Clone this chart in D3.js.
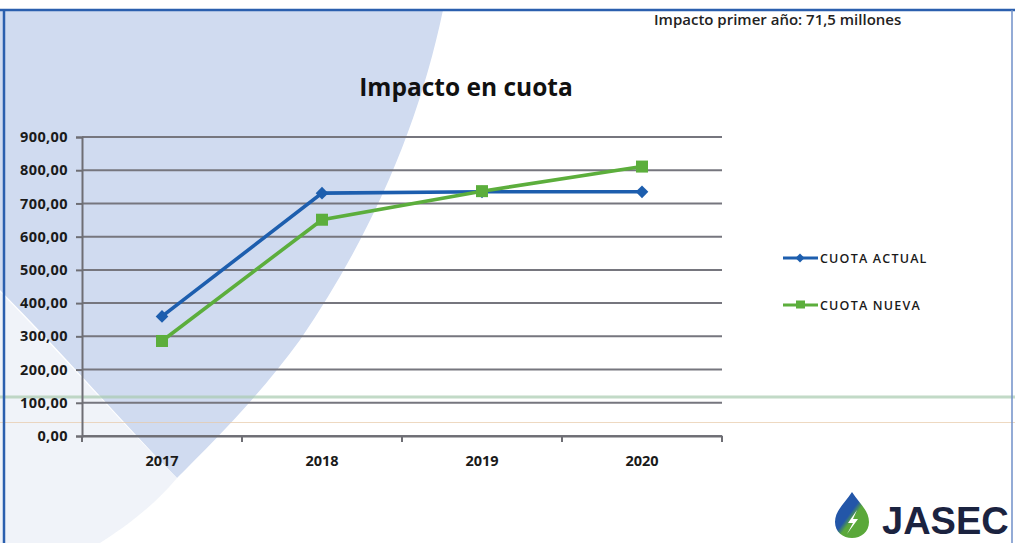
<!DOCTYPE html>
<html>
<head>
<meta charset="utf-8">
<script src="https://cdnjs.cloudflare.com/ajax/libs/d3/7.8.5/d3.min.js"></script>
<style>
  html, body { margin: 0; padding: 0; background: #fff; }
  svg { display: block; }
</style>
</head>
<body>
<svg id="chart" width="1015" height="543"></svg>
<script>
const categories = ["2017", "2018", "2019", "2020"];
const cuotaActual = [360, 731, 735, 735];
const cuotaNueva = [286, 651, 737, 811];
const yTicks = [0, 100, 200, 300, 400, 500, 600, 700, 800, 900];
const seriesNames = ["CUOTA ACTUAL", "CUOTA NUEVA"];
const titleText = "Impacto en cuota";
const noteText = "Impacto primer año: 71,5 millones";

const svg = d3.select("#chart");
const W = 1015, H = 543;
const margin = { left: 82, right: 722, top: 137, bottom: 436 };

// background decoration (slide swoosh)
svg.append("rect").attr("width", W).attr("height", H).attr("fill", "#ffffff");
const swoosh = d3.path();
swoosh.moveTo(0, 10);
swoosh.lineTo(443, 10);
swoosh.bezierCurveTo(420, 120, 375, 230, 300, 340);
swoosh.bezierCurveTo(260, 395, 215, 440, 177, 478);
swoosh.bezierCurveTo(120, 420, 60, 350, 0, 290);
swoosh.closePath();
svg.append("path").attr("d", swoosh.toString()).attr("fill", "#d0dbf0");
const swoosh2 = d3.path();
swoosh2.moveTo(0, 292);
swoosh2.bezierCurveTo(60, 352, 120, 422, 177, 478);
swoosh2.bezierCurveTo(150, 510, 120, 530, 100, 543);
swoosh2.lineTo(0, 543);
swoosh2.closePath();
svg.append("path").attr("d", swoosh2.toString()).attr("fill", "#f0f3f9");

// scan artifacts
svg.append("line").attr("x1", 0).attr("x2", W).attr("y1", 397).attr("y2", 397)
  .attr("stroke", "#a9cbb0").attr("stroke-width", 3).attr("opacity", 0.7);
svg.append("line").attr("x1", 0).attr("x2", W).attr("y1", 422.5).attr("y2", 422.5)
  .attr("stroke", "#e8c9a8").attr("stroke-width", 1).attr("opacity", 0.7);

// slide frame
svg.append("line").attr("x1", 0).attr("x2", W).attr("y1", 10).attr("y2", 10)
  .attr("stroke", "#2b5fae").attr("stroke-width", 2.5);
svg.append("line").attr("x1", 4).attr("x2", 4).attr("y1", 10).attr("y2", H)
  .attr("stroke", "#2b5fae").attr("stroke-width", 2.5);
svg.append("line").attr("x1", 1012).attr("x2", 1012).attr("y1", 10).attr("y2", H)
  .attr("stroke", "#6f8fc8").attr("stroke-width", 1.5);

const x = d3.scaleBand().domain(categories).range([margin.left, margin.right]).padding(0);
const y = d3.scaleLinear().domain([0, 900]).range([margin.bottom, margin.top]);
const cx = d => x(d) + x.bandwidth() / 2;

// gridlines
svg.append("g").selectAll("line").data(yTicks).join("line")
  .attr("x1", margin.left).attr("x2", margin.right)
  .attr("y1", d => y(d)).attr("y2", d => y(d))
  .attr("stroke", "#76767e").attr("stroke-width", 2);

// y axis
const yAxis = svg.append("g").attr("transform", `translate(${margin.left},0)`)
  .call(d3.axisLeft(y).tickValues(yTicks).tickSize(6).tickPadding(8)
    .tickFormat(d => d3.format(".2f")(d).replace(".", ",")));
yAxis.select(".domain").attr("stroke", "#6e6e74").attr("stroke-width", 2);
yAxis.selectAll(".tick line").attr("stroke", "#6e6e74").attr("stroke-width", 2);
yAxis.selectAll("text").attr("font-family", "'Open Sans', sans-serif")
  .attr("font-weight", 700).attr("font-size", 14.5).attr("letter-spacing", 0.4).attr("fill", "#1a1a1a");

// x axis
const xAxis = svg.append("g").attr("transform", `translate(0,${margin.bottom})`)
  .call(d3.axisBottom(x).tickSize(0).tickPadding(20));
xAxis.select(".domain").attr("stroke", "#6e6e74").attr("stroke-width", 2);
xAxis.selectAll("text").attr("font-family", "'Open Sans', sans-serif")
  .attr("font-weight", 700).attr("font-size", 14.5).attr("fill", "#1a1a1a");
// category boundary ticks
const bounds = categories.map(c => x(c)).concat([x(categories[categories.length - 1]) + x.bandwidth()]);
svg.append("g").selectAll("line").data(bounds).join("line")
  .attr("x1", d => d).attr("x2", d => d)
  .attr("y1", margin.bottom).attr("y2", margin.bottom + 6)
  .attr("stroke", "#6e6e74").attr("stroke-width", 2);

// series
const colors = ["#1d5eae", "#5cae3c"];
const seriesData = [cuotaActual, cuotaNueva];
const line = d3.line().x((d, i) => cx(categories[i])).y(d => y(d));
seriesData.forEach((vals, s) => {
  svg.append("path").datum(vals).attr("d", line)
    .attr("fill", "none").attr("stroke", colors[s]).attr("stroke-width", 3.6);
});
// markers
svg.append("g").selectAll("path").data(cuotaActual).join("path")
  .attr("d", d3.symbol().type(d3.symbolSquare).size(80))
  .attr("transform", (d, i) => `translate(${cx(categories[i])},${y(d)}) rotate(45)`)
  .attr("fill", colors[0]);
svg.append("g").selectAll("rect").data(cuotaNueva).join("rect")
  .attr("x", (d, i) => cx(categories[i]) - 6).attr("y", d => y(d) - 6)
  .attr("width", 12).attr("height", 12).attr("fill", colors[1]);

// title
svg.append("text").attr("x", 466).attr("y", 96).attr("text-anchor", "middle")
  .attr("font-family", "'Open Sans', sans-serif").attr("font-weight", 700)
  .attr("font-size", 24.5).attr("fill", "#111").text(titleText);
// note
svg.append("text").attr("x", 654).attr("y", 25)
  .attr("font-family", "'Open Sans', sans-serif").attr("font-weight", 600)
  .attr("font-size", 15).attr("fill", "#222").text(noteText);

// legend
const legY = [258, 305];
seriesNames.forEach((name, s) => {
  const g = svg.append("g");
  g.append("line").attr("x1", 783).attr("x2", 818).attr("y1", legY[s]).attr("y2", legY[s])
    .attr("stroke", colors[s]).attr("stroke-width", 3);
  if (s === 0) {
    g.append("path").attr("d", d3.symbol().type(d3.symbolSquare).size(40))
      .attr("transform", `translate(800,${legY[s]}) rotate(45)`).attr("fill", colors[s]);
  } else {
    g.append("rect").attr("x", 796).attr("y", legY[s] - 4.5).attr("width", 9).attr("height", 8)
      .attr("fill", colors[s]);
  }
  g.append("text").attr("x", 820).attr("y", legY[s] + 5)
    .attr("font-family", "'Open Sans', sans-serif").attr("font-weight", 600)
    .attr("font-size", 12.5).attr("letter-spacing", 1.2).attr("fill", "#1a1a1a").text(name);
});

// logo
const logo = svg.append("g").attr("transform", "translate(852,0)");
const defs = svg.append("defs");
const grad = defs.append("linearGradient").attr("id", "dropGrad")
  .attr("x1", "0").attr("y1", "0").attr("x2", "1").attr("y2", "1");
grad.append("stop").attr("offset", "0.45").attr("stop-color", "#2356a8");
grad.append("stop").attr("offset", "0.55").attr("stop-color", "#5aa83a");
const drop = d3.path();
drop.moveTo(0, 492);
drop.bezierCurveTo(6, 502, 17, 510, 17, 522);
drop.bezierCurveTo(17, 532, 9, 538, 0, 538);
drop.bezierCurveTo(-9, 538, -17, 532, -17, 522);
drop.bezierCurveTo(-17, 510, -6, 502, 0, 492);
drop.closePath();
logo.append("path").attr("d", drop.toString()).attr("fill", "url(#dropGrad)");
logo.append("path").attr("d", "M5,510 L-4,523 L1,523 L-5,534 L6,519 L1,519 Z").attr("fill", "#ffffff");
svg.append("text").attr("x", 882).attr("y", 534)
  .attr("font-family", "'Liberation Sans', Arial, sans-serif").attr("font-weight", 700)
  .attr("font-size", 38).attr("fill", "#1b2340").text("JASEC");
</script>
</body>
</html>
